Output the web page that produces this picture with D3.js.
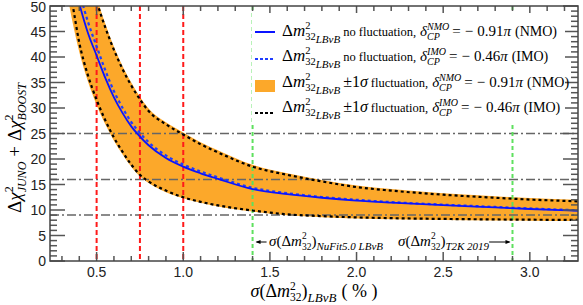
<!DOCTYPE html>
<html>
<head>
<meta charset="utf-8">
<script src="https://cdn.jsdelivr.net/npm/d3@7"></script>
<style>
  body { margin: 0; background: #fff; }
  svg { display: block; }
  .serif text { font-family: "Liberation Serif", "Times New Roman", serif; fill: #000; }
  .tick-label { font-family: "Liberation Sans", Arial, sans-serif; font-size: 14px; fill: #222; }
</style>
</head>
<body>
<svg id="chart" width="583" height="305"></svg>
<script>
// --- Data ---
const sigma = [0.34, 0.36, 0.40, 0.45, 0.50, 0.55, 0.60, 0.65, 0.70, 0.75, 0.80, 0.90,
  1.00, 1.10, 1.20, 1.40, 1.60, 1.80, 2.00, 2.20, 2.50, 2.80, 3.00, 3.28];
const nmoCentral = [60, 56, 50.5, 44.7, 40.3, 35.9, 32.1, 29.0, 26.4, 24.4, 22.7, 20.2,
  18.5, 17.2, 16.1, 14.1, 13.1, 12.4, 11.85, 11.45, 10.95, 10.5, 10.2, 9.85];
const imoCentral = [64, 59.5, 53.0, 46.9, 42.1, 37.4, 33.3, 30.0, 27.25, 25.1, 23.3, 20.7,
  18.9, 17.55, 16.4, 14.35, 13.3, 12.55, 12.0, 11.55, 11.05, 10.6, 10.3, 9.95];
const nmoBandLow = [50.5, 47.0, 41.0, 35.2, 30.6, 26.8, 23.6, 20.9, 18.5, 16.6, 15.3, 13.5,
  12.3, 11.4, 10.7, 9.7, 8.95, 8.6, 8.35, 8.2, 8.05, 7.95, 7.9, 7.85];
const nmoBandUp = [78, 74, 66.5, 58.5, 51.8, 46.5, 42.0, 38.2, 35.0, 32.2, 29.9, 27.2,
  25.2, 23.3, 21.7, 18.85, 17.2, 15.9, 14.8, 14.1, 13.3, 12.7, 12.35, 12.0];
const imoBandLow = [54.0, 50.5, 42.8, 36.4, 31.6, 27.6, 24.2, 21.4, 18.9, 16.9, 15.6, 13.8,
  12.5, 11.6, 10.9, 9.9, 9.15, 8.8, 8.55, 8.4, 8.25, 8.15, 8.1, 8.05];
const imoBandUp = [76, 72, 65, 57.5, 51.0, 45.8, 41.4, 37.6, 34.4, 31.7, 29.4, 26.8,
  24.8, 22.9, 21.3, 18.5, 16.9, 15.6, 14.5, 13.8, 13.0, 12.4, 12.05, 11.7];

const chi2Levels = [25, 16, 9];          // grey dash-dot lines
const redSigmas = [0.5, 0.75, 1.0];      // red dashed lines
const greenSigmas = [1.4, 2.9];          // green dashed lines (NuFit 5.0, T2K 2019)
const xTickLabels = [0.5, 1.0, 1.5, 2.0, 2.5, 3.0];
const yTickLabels = [0, 5, 10, 15, 20, 25, 30, 35, 40, 45, 50];

// --- Layout ---
const svg = d3.select("#chart");
const plot = { left: 50, right: 578, top: 6, bottom: 261 };
const x = d3.scaleLinear().domain([0.231, 3.278]).range([plot.left, plot.right]);
const y = d3.scaleLinear().domain([0, 50]).range([plot.bottom, plot.top]);

svg.append("defs").append("clipPath").attr("id", "clip")
  .append("rect")
  .attr("x", plot.left).attr("y", plot.top)
  .attr("width", plot.right - plot.left).attr("height", plot.bottom - plot.top);

const g = svg.append("g").attr("clip-path", "url(#clip)");

const pts = (ys) => sigma.map((s, i) => [s, ys[i]]);
const line = d3.line().x((d) => x(d[0])).y((d) => y(d[1])).curve(d3.curveMonotoneX);
const area = d3.area()
  .x((d) => x(d.s)).y0((d) => y(d.lo)).y1((d) => y(d.hi))
  .curve(d3.curveMonotoneX);

// orange NMO +-1 sigma band
g.append("path")
  .datum(sigma.map((s, i) => ({ s, lo: nmoBandLow[i], hi: nmoBandUp[i] })))
  .attr("d", area)
  .attr("fill", "#fca82a");

// grey dash-dot levels
g.selectAll("line.level").data(chi2Levels).join("line")
  .attr("class", "level")
  .attr("x1", plot.left).attr("x2", plot.right)
  .attr("y1", (d) => y(d)).attr("y2", (d) => y(d))
  .attr("stroke", "#666").attr("stroke-width", 1.5)
  .attr("stroke-dasharray", "9,3,2,3");

// red and green vertical dashed lines
g.selectAll("line.red").data(redSigmas).join("line")
  .attr("class", "red")
  .attr("x1", (d) => x(d)).attr("x2", (d) => x(d))
  .attr("y1", plot.top).attr("y2", plot.bottom)
  .attr("stroke", "#ff1a1a").attr("stroke-width", 2)
  .attr("stroke-dasharray", "5,3");

g.selectAll("line.green").data(greenSigmas).join("line")
  .attr("class", "green")
  .attr("x1", (d) => x(d)).attr("x2", (d) => x(d))
  .attr("y1", plot.top).attr("y2", plot.bottom)
  .attr("stroke", "#5ee05e").attr("stroke-width", 2)
  .attr("stroke-dasharray", "4,3");

// black dotted IMO band edges
[imoBandLow, imoBandUp].forEach((ys) => {
  g.append("path").datum(pts(ys)).attr("d", line)
    .attr("fill", "none").attr("stroke", "#000").attr("stroke-width", 2.2)
    .attr("stroke-dasharray", "3,3");
});

// blue central curves
g.append("path").datum(pts(imoCentral)).attr("d", line)
  .attr("fill", "none").attr("stroke", "#1f3dff").attr("stroke-width", 2.2)
  .attr("stroke-dasharray", "3,3");
g.append("path").datum(pts(nmoCentral)).attr("d", line)
  .attr("fill", "none").attr("stroke", "#0a14ff").attr("stroke-width", 1.8);

// --- Axes (frame with ticks on all four sides) ---
const axisColor = "#555";
const axes = svg.append("g");
const xMinor = d3.range(3, 33).map((d) => d / 10);
const yMinor = d3.range(0, 51);

xMinor.forEach((v) => {
  const major = Math.abs(v * 2 - Math.round(v * 2)) < 1e-6;
  const len = major ? 9 : 5;
  axes.append("line").attr("x1", x(v)).attr("x2", x(v))
    .attr("y1", plot.bottom).attr("y2", plot.bottom - len)
    .attr("stroke", axisColor).attr("stroke-width", 1.5);
  axes.append("line").attr("x1", x(v)).attr("x2", x(v))
    .attr("y1", plot.top).attr("y2", plot.top + len)
    .attr("stroke", axisColor).attr("stroke-width", 1.5);
});
yMinor.forEach((v) => {
  const len = v % 5 === 0 ? 15 : 7;
  axes.append("line").attr("y1", y(v)).attr("y2", y(v))
    .attr("x1", plot.left).attr("x2", plot.left + len)
    .attr("stroke", axisColor).attr("stroke-width", 1.5);
  axes.append("line").attr("y1", y(v)).attr("y2", y(v))
    .attr("x1", plot.right).attr("x2", plot.right - len)
    .attr("stroke", axisColor).attr("stroke-width", 1.5);
});
axes.append("rect")
  .attr("x", plot.left).attr("y", plot.top)
  .attr("width", plot.right - plot.left).attr("height", plot.bottom - plot.top)
  .attr("fill", "none").attr("stroke", "#444").attr("stroke-width", 1.5);

svg.selectAll("text.xl").data(xTickLabels).join("text")
  .attr("class", "tick-label")
  .attr("x", (d) => x(d)).attr("y", 277)
  .attr("text-anchor", "middle")
  .text((d) => d.toFixed(1));
svg.selectAll("text.yl").data(yTickLabels).join("text")
  .attr("class", "tick-label")
  .attr("x", 46).attr("y", (d) => Math.max(y(d) + 5, 12))
  .attr("text-anchor", "end")
  .text((d) => d);

// --- rich text helper: pieces laid out left to right ---
function richText(parent, x0, y0, pieces) {
  let cx = x0, prevStart = x0;
  pieces.forEach((p) => {
    if (p.gap) { cx += p.gap; return; }
    const start = p.stack ? prevStart : cx;
    const t = parent.append("text")
      .attr("x", start).attr("y", y0 + (p.dy || 0))
      .attr("font-size", p.fs)
      .attr("font-style", p.it ? "italic" : "normal")
      .text(p.t);
    const w = t.node().getComputedTextLength();
    cx = p.stack ? Math.max(cx, start + w) : start + w;
    prevStart = start;
  });
  return cx - x0;
}

const dm32 = [
  { t: "Δ", fs: 17 }, { t: "m", fs: 17, it: true },
  { t: "2", fs: 10.5, dy: -7 }, { t: "32", fs: 10.5, dy: 4, stack: true },
  { t: "LBνB", fs: 11, it: true, dy: 7 }, { gap: 3 }
];
const delta = (mo) => [
  { t: "δ", fs: 15, it: true },
  { t: mo, fs: 10, it: true, dy: -6 }, { t: "CP", fs: 10, it: true, dy: 4, stack: true },
  { gap: 3 }
];
const value = (v, mo) => [
  { t: "=", fs: 15 }, { gap: 4 }, { t: "−", fs: 15 }, { gap: 4 },
  { t: v, fs: 15 }, { t: "π", fs: 15, it: true }, { gap: 4 },
  { t: "(" + mo + ")", fs: 14 }
];
const legendRows = [
  [...dm32, { t: "no fluctuation,", fs: 12.5 }, { gap: 4 }, ...delta("NMO"), ...value("0.91", "NMO")],
  [...dm32, { t: "no fluctuation,", fs: 12.5 }, { gap: 4 }, ...delta("IMO"), ...value("0.46", "IMO")],
  [...dm32, { t: "±1", fs: 16 }, { t: "σ", fs: 16, it: true }, { gap: 3 }, { t: "fluctuation,", fs: 12.5 }, { gap: 4 }, ...delta("NMO"), ...value("0.91", "NMO")],
  [...dm32, { t: "±1", fs: 16 }, { t: "σ", fs: 16, it: true }, { gap: 3 }, { t: "fluctuation,", fs: 12.5 }, { gap: 4 }, ...delta("IMO"), ...value("0.46", "IMO")]
];

// --- Legend ---
const legend = svg.append("g").attr("class", "serif");
legend.append("rect").attr("x", 252).attr("y", 13).attr("width", 313).attr("height", 111)
  .attr("fill", "#fff");
const rowY = [36, 61, 87, 112];
legendRows.forEach((row, i) => richText(legend, 282, rowY[i], row));
legend.append("line").attr("x1", 255).attr("x2", 275).attr("y1", 32).attr("y2", 32)
  .attr("stroke", "#0a14ff").attr("stroke-width", 2);
legend.append("line").attr("x1", 255).attr("x2", 275).attr("y1", 59).attr("y2", 59)
  .attr("stroke", "#1f3dff").attr("stroke-width", 2.2).attr("stroke-dasharray", "3,2");
legend.append("rect").attr("x", 255).attr("y", 80).attr("width", 20).attr("height", 12)
  .attr("fill", "#fca82a");
legend.append("line").attr("x1", 255).attr("x2", 275).attr("y1", 113).attr("y2", 113)
  .attr("stroke", "#000").attr("stroke-width", 2.2).attr("stroke-dasharray", "3,2");

// --- Annotations ---
const ann = svg.append("g").attr("class", "serif");
const sigDm = [
  { t: "σ", fs: 15, it: true }, { t: "(Δ", fs: 15 }, { t: "m", fs: 15, it: true },
  { t: "2", fs: 9.5, dy: -7 }, { t: "32", fs: 9.5, dy: 4, stack: true }, { t: ")", fs: 15 }
];
ann.append("path").attr("d", `M${x(1.4) + 14},242 H${x(1.4) + 4}`)
  .attr("stroke", "#000").attr("stroke-width", 1);
ann.append("path").attr("d", `M${x(1.4) + 3},242 l5,-2 v4 z`).attr("fill", "#000");
richText(ann, 269, 246, [...sigDm, { t: "NuFit5.0 LBνB", fs: 11, it: true, dy: 4 }]);
const wT2K = richText(ann, 398, 246, [...sigDm, { t: "T2K 2019", fs: 11, it: true, dy: 4 }]);
ann.append("path").attr("d", `M${398 + wT2K},242 H${x(2.9) - 3}`)
  .attr("stroke", "#000").attr("stroke-width", 1);
ann.append("path").attr("d", `M${x(2.9) - 2},242 l-5,-2 v4 z`).attr("fill", "#000");

// --- Axis titles ---
const xt = svg.append("g").attr("class", "serif");
const wx = richText(xt, 0, 0, [
  { t: "σ", fs: 18, it: true }, { t: "(Δ", fs: 18 }, { t: "m", fs: 18, it: true },
  { t: "2", fs: 11.5, dy: -7 }, { t: "32", fs: 11.5, dy: 4, stack: true }, { t: ")", fs: 18 },
  { t: "LBνB", fs: 13, it: true, dy: 5 }, { gap: 5 }, { t: "( % )", fs: 18 }
]);
xt.attr("transform", `translate(${314 - wx / 2},297)`);

const yt = svg.append("g").attr("class", "serif");
const chi = (sub) => [
  { t: "Δ", fs: 19 }, { t: "χ", fs: 19, it: true },
  { t: "2", fs: 12, dy: -8 }, { t: sub, fs: 12, it: true, dy: 5, stack: true }
];
const wy = richText(yt, 0, 0, [...chi("JUNO"), { gap: 5 }, { t: "+", fs: 19 }, { gap: 5 }, ...chi("BOOST")]);
yt.attr("transform", `translate(21,${148 + wy / 2}) rotate(-90)`);
</script>
</body>
</html>
